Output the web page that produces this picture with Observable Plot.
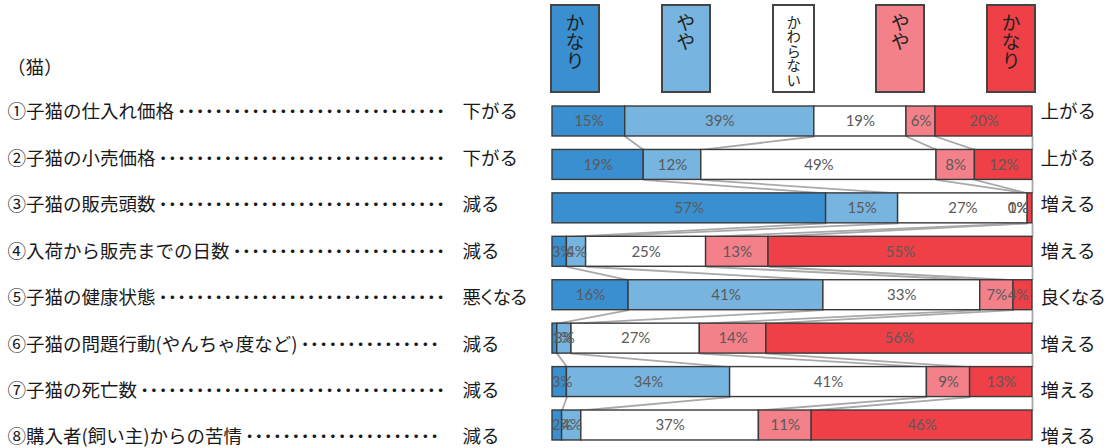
<!DOCTYPE html>
<html>
<head>
<meta charset="utf-8">
<script src="https://cdn.jsdelivr.net/npm/d3@7"></script>
<script src="https://cdn.jsdelivr.net/npm/@observablehq/plot@0.6"></script>
<style>
  body { margin: 0; background: #fff; }
  #wrap { position: relative; width: 1110px; height: 448px; overflow: hidden; font-family: "Noto Sans CJK JP", sans-serif; }
  #wrap svg { position: absolute; left: 0; top: 0; overflow: visible; }
  #title { position: absolute; left: 7px; top: 54px; font-size: 18.5px; line-height: 24px; color: #1a1a1a; }
  #legend { position: absolute; left: 550px; top: 4px; width: 486px; height: 89px; display: flex; justify-content: space-between; }
  .box { box-sizing: border-box; width: 50px; height: 89px; border: 2px solid #444; display: flex; justify-content: center; padding-top: 7px; }
  .box span { writing-mode: vertical-rl; text-orientation: upright; font-size: 19px; line-height: 1; color: #222; }
  .box.small { width: 43px; padding-top: 9px; }
  .box.small span { font-size: 14.5px; }
  .tight { font-feature-settings: "palt"; letter-spacing: -0.5px; }
</style>
</head>
<body>
<div id="wrap">
  <div id="title">（猫）</div>
  <div id="legend"></div>
</div>
<script>
// ---- data ----
const items = [
  "①子猫の仕入れ価格",
  "②子猫の小売価格",
  "③子猫の販売頭数",
  "④入荷から販売までの日数",
  "⑤子猫の健康状態",
  "⑥子猫の問題行動(やんちゃ度など)",
  "⑦子猫の死亡数",
  "⑧購入者(飼い主)からの苦情"
];
const dirLeft  = ["下がる", "下がる", "減る", "減る", "悪くなる", "減る", "減る", "減る"];
const dirRight = ["上がる", "上がる", "増える", "増える", "良くなる", "増える", "増える", "増える"];
const legendLabels = ["かなり", "やや", "かわらない", "やや", "かなり"];
const colors = ["#3a8fd0", "#77b4e0", "#ffffff", "#f4808a", "#ef4048"];
// series values (%) per item, from left (かなり下/減) to right (かなり上/増)
const s1 = [15, 19, 57, 3, 16, 1, 3, 2];
const s2 = [39, 12, 15, 4, 41, 3, 34, 4];
const s3 = [19, 49, 27, 25, 33, 27, 41, 37];
const s4 = [6, 8, 0, 13, 7, 14, 9, 11];
const s5 = [20, 12, 1, 55, 4, 56, 13, 46];
const series = [s1, s2, s3, s4, s5];

// ---- stacking (normalized per row) ----
const H = 0.345;
const segs = [];
const ends = [];
items.forEach((_, i) => {
  const vals = series.map(s => s[i]);
  const total = d3.sum(vals);
  let c = 0;
  ends[i] = [];
  vals.forEach((v, k) => {
    const x1 = c / total;
    c += v;
    const x2 = c / total;
    ends[i].push(x2);
    segs.push({i, k, v, x1, x2, lx: Math.max(0.02, Math.min(0.97, (x1 + x2) / 2))});
  });
});
const links = [];
for (let k = 0; k < series.length; k++) {
  for (let i = 0; i < items.length - 1; i++) {
    links.push({x1: ends[i][k], y1: i + H, x2: ends[i + 1][k], y2: i + 1 - H});
  }
}

// ---- legend ----
const leg = document.getElementById("legend");
legendLabels.forEach((t, k) => {
  const b = document.createElement("div");
  b.className = "box" + (t.length > 3 ? " small" : "");
  b.style.background = colors[k];
  const s = document.createElement("span");
  s.textContent = t;
  b.appendChild(s);
  leg.appendChild(b);
});

// ---- bars ----
const bars = Plot.plot({
  width: 1110, height: 448,
  x: {domain: [0, 1], range: [552, 1032], axis: null},
  y: {domain: [0, 7], range: [121, 425], axis: null},
  marks: [
    Plot.link(links, {x1: "x1", y1: "y1", x2: "x2", y2: "y2", stroke: "#a9a9a9", strokeWidth: 1.8}),
    Plot.rect(segs, {x1: "x1", x2: "x2", y1: d => d.i - H, y2: d => d.i + H,
      fill: d => colors[d.k], stroke: "#3a3a3a", strokeWidth: 1.4}),
    Plot.text(segs, {x: "lx", y: "i", text: d => d.v + "%", fill: "#5a5a5a",
      fontSize: 15, fontFamily: "Lato"})
  ]
});

// ---- row labels ----
const labels = Plot.plot({
  width: 1110, height: 448,
  x: {domain: [0, 1], range: [552, 1032], axis: null},
  y: {domain: [0, 7], range: [112, 437], axis: null},
  style: {fontFamily: "Noto Sans CJK JP"},
  marks: [
    Plot.text(items, {x: () => 0, y: (d, i) => i, dx: -545, text: d => d,
      textAnchor: "start", fontSize: 18.5, fill: "#1a1a1a"}),
    Plot.text(dirLeft, {x: () => 0, y: (d, i) => i, dx: -90, text: d => d,
      textAnchor: "start", fontSize: 18.5, fill: "#1a1a1a"}),
    Plot.text(dirRight, {x: () => 1, y: (d, i) => i, dx: 8, text: d => d,
      textAnchor: "start", fontSize: 18.5, fill: "#1a1a1a"})
  ]
});
labels.style.background = "transparent";
bars.style.background = "transparent";

const wrap = document.getElementById("wrap");
wrap.appendChild(bars);
wrap.appendChild(labels);

const groups = labels.querySelectorAll('g[aria-label="text"]');
// long direction labels use proportional kana, as in the reference
[groups[1], groups[2]].forEach(g => g.querySelectorAll("text").forEach(t => {
  if (t.textContent.length > 3) t.setAttribute("class", "tight");
}));
// leader dots after each item label, filled up to a common end
const DOT_END = 438;
groups[0].querySelectorAll("text").forEach(t => {
  const ts = document.createElementNS("http://www.w3.org/2000/svg", "tspan");
  ts.setAttribute("font-weight", "700");
  ts.setAttribute("dx", "3");
  t.appendChild(ts);
  let s = "";
  while (true) {
    ts.textContent = s + "･";
    const w = t.getBBox();
    if (w.x + w.width > DOT_END) { ts.textContent = s; break; }
    s += "･";
  }
});
</script>
</body>
</html>
